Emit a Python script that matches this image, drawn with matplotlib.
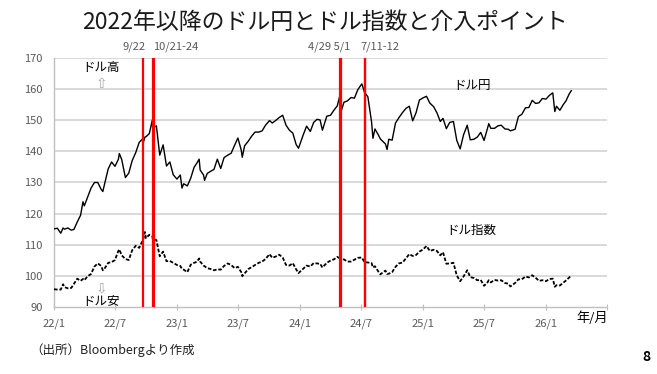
import matplotlib
matplotlib.use("Agg")
import matplotlib.pyplot as plt
import matplotlib.dates as mdates
import pandas as pd

plt.rcParams['font.family'] = ['Noto Sans CJK JP', 'DejaVu Sans']

dates = [
 "2022-01-01","2022-01-11","2022-01-21","2022-01-28","2022-02-01","2022-02-11","2022-02-21",
 "2022-03-01","2022-03-11","2022-03-21","2022-03-28","2022-04-01","2022-04-11","2022-04-21",
 "2022-05-01","2022-05-11","2022-05-21","2022-05-26","2022-06-01","2022-06-11","2022-06-21",
 "2022-07-01","2022-07-11","2022-07-14","2022-07-21","2022-08-01","2022-08-11","2022-08-21",
 "2022-09-01","2022-09-11","2022-09-21","2022-09-22","2022-09-28","2022-10-01","2022-10-11",
 "2022-10-20","2022-10-21","2022-11-01","2022-11-11","2022-11-21","2022-12-01","2022-12-11","2022-12-21",
 "2023-01-01","2023-01-11","2023-01-16","2023-01-21","2023-02-01","2023-02-11","2023-02-21",
 "2023-03-01","2023-03-08","2023-03-11","2023-03-21","2023-03-24","2023-04-01","2023-04-11","2023-04-21",
 "2023-05-01","2023-05-11","2023-05-21","2023-06-01","2023-06-11","2023-06-21",
 "2023-07-01","2023-07-11","2023-07-14","2023-07-21","2023-08-01","2023-08-11","2023-08-21",
 "2023-09-01","2023-09-11","2023-09-21","2023-10-03","2023-10-11","2023-10-21",
 "2023-11-01","2023-11-11","2023-11-21","2023-12-01","2023-12-11","2023-12-21","2023-12-28",
 "2024-01-11","2024-01-21","2024-02-01","2024-02-11","2024-02-21",
 "2024-03-01","2024-03-08","2024-03-21","2024-04-01","2024-04-11","2024-04-21","2024-04-29",
 "2024-05-01","2024-05-03","2024-05-11","2024-05-21","2024-06-01","2024-06-11","2024-06-21",
 "2024-07-03","2024-07-11","2024-07-21","2024-08-01","2024-08-05","2024-08-11","2024-08-21",
 "2024-08-27","2024-09-11","2024-09-16","2024-09-21","2024-10-01","2024-10-11","2024-10-21",
 "2024-11-01","2024-11-11","2024-11-21","2024-12-01","2024-12-11","2024-12-21",
 "2025-01-01","2025-01-11","2025-01-21","2025-02-01","2025-02-11","2025-02-21",
 "2025-03-01","2025-03-11","2025-03-21","2025-04-01","2025-04-11","2025-04-21",
 "2025-05-01","2025-05-12","2025-05-21","2025-06-01","2025-06-11","2025-06-21",
 "2025-07-01","2025-07-11","2025-07-15","2025-07-21","2025-08-01","2025-08-11","2025-08-21",
 "2025-09-01","2025-09-11","2025-09-17","2025-10-01","2025-10-11","2025-10-21",
 "2025-11-01","2025-11-11","2025-11-21","2025-12-01","2025-12-11","2025-12-21",
 "2026-01-01","2026-01-11","2026-01-21","2026-01-27","2026-02-01","2026-02-11","2026-02-21",
 "2026-03-01","2026-03-11","2026-03-17",
]

usdjpy = [
 115.1,115.3,113.7,115.4,115.0,115.4,114.7,
 114.9,117.3,119.5,123.8,122.5,125.4,128.2,
 130.0,130.0,127.8,127.1,129.9,134.4,136.6,
 135.2,137.4,139.3,137.4,131.6,133.0,137.0,
 139.7,142.9,144.0,142.4,144.6,144.7,145.7,
 150.1,147.6,148.2,138.8,142.1,135.3,136.6,132.5,
 131.1,132.4,128.2,129.6,128.9,131.4,134.9,
 136.2,137.5,134.0,132.4,130.7,132.9,133.6,134.2,
 137.5,134.5,138.0,138.8,139.4,141.9,
 144.3,140.4,138.1,141.8,143.3,144.9,146.2,
 146.2,146.6,148.4,149.9,149.1,149.9,
 150.9,151.6,148.4,146.8,145.9,142.2,141.0,
 145.3,148.1,146.4,149.3,150.3,
 150.1,146.8,151.3,151.6,153.2,154.6,158.0,
 157.4,153.0,155.8,156.2,157.3,157.1,159.8,
 161.7,159.0,157.5,149.4,144.2,147.2,145.3,
 144.0,142.4,140.6,143.9,143.6,149.1,150.8,
 152.5,153.8,154.5,149.8,152.4,156.5,
 157.2,157.7,155.5,154.4,152.4,149.6,
 150.6,147.3,149.3,149.6,143.5,140.8,
 145.3,148.4,143.7,143.9,144.6,146.1,
 143.5,147.4,148.9,147.4,147.4,148.2,148.4,
 147.2,147.1,146.6,147.1,151.2,151.9,
 154.0,154.1,156.4,155.4,155.6,157.0,
 156.8,158.0,158.8,152.8,154.5,153.2,155.0,
 156.2,158.5,159.5,
]

dxy = [
 95.7,95.6,95.6,97.3,96.4,96.0,96.1,
 97.4,99.1,98.4,99.0,98.6,99.9,100.6,
 103.0,104.0,103.2,101.8,102.5,104.2,104.4,
 105.1,108.0,108.5,106.6,105.4,105.1,108.2,
 109.7,109.0,111.3,111.3,114.1,112.1,113.2,
 112.9,112.0,111.5,106.3,107.8,104.7,104.8,104.2,
 103.5,103.2,102.2,102.0,101.2,103.6,104.2,
 104.5,105.6,104.6,103.3,103.1,102.5,102.2,101.8,
 102.1,102.0,103.2,104.0,103.5,102.5,
 102.9,101.2,99.9,100.8,102.2,102.8,103.5,
 104.2,104.6,105.4,107.0,105.8,106.2,
 106.8,105.9,103.5,103.3,104.1,102.1,100.9,
 102.3,103.3,103.0,104.1,104.0,
 103.9,102.7,104.2,104.9,105.3,106.1,105.6,
 106.2,105.1,105.3,104.6,104.6,105.2,105.8,
 105.9,104.4,104.3,104.1,102.7,103.1,101.4,
 100.5,101.7,100.6,100.7,101.2,102.9,104.0,
 104.3,105.6,107.0,106.4,106.7,107.8,
 108.5,109.6,108.0,108.4,108.0,106.6,
 107.6,103.9,104.0,104.2,100.1,98.3,
 99.8,101.8,99.6,99.3,98.6,98.7,
 96.8,97.9,98.6,97.9,98.7,98.5,98.6,
 97.7,97.5,96.6,97.7,98.9,98.9,
 99.8,99.5,100.2,99.4,98.4,98.6,
 98.3,99.0,99.1,96.5,97.0,96.9,97.8,
 98.5,99.5,100.1,
]

interventions = ["2022-09-22","2022-10-21","2022-10-24","2024-04-29","2024-05-01","2024-07-11","2024-07-12"]
xtick_dates = ["2022-01-01","2022-07-01","2023-01-01","2023-07-01","2024-01-01","2024-07-01",
               "2025-01-01","2025-07-01","2026-01-01"]
xtick_labels = ["22/1","22/7","23/1","23/7","24/1","24/7","25/1","25/7","26/1"]
yticks = [90,100,110,120,130,140,150,160,170]

x = pd.to_datetime(dates)

W, H = 657, 374
fig = plt.figure(figsize=(W/100, H/100), dpi=100)
ax = fig.add_axes([54/W, 1-307/H, (607-54)/W, (307-58)/H])

gray_txt = '#595959'
for v in yticks[1:]:
    ax.axhline(v, color='#D9D9D9', lw=1.4, zorder=0)

ax.plot(x, usdjpy, color='black', lw=1.0, zorder=3)
ax.plot(x, dxy, color='black', lw=1.3, linestyle=(0, (2, 1)), zorder=3)

for d in pd.to_datetime(interventions):
    ax.axvline(d, color='#FF0000', lw=1.6, zorder=4)

ax.set_ylim(90, 170)
ax.set_xlim(pd.Timestamp("2022-01-01"), pd.Timestamp("2026-07-01"))
ax.set_yticks(yticks)
ax.set_yticklabels([str(v) for v in yticks], color=gray_txt, fontsize=8)
ax.set_xticks(pd.to_datetime(xtick_dates + ["2026-07-01"]))
ax.set_xticklabels(xtick_labels + [""], color=gray_txt, fontsize=8)
ax.tick_params(axis='y', length=0, pad=8)
ax.tick_params(axis='x', direction='inout', length=5, color='#BFBFBF', pad=6)
for s in ['top', 'right']:
    ax.spines[s].set_visible(False)
ax.spines['left'].set_color('#BFBFBF')
ax.spines['bottom'].set_color('#BFBFBF')
ax.spines['left'].set_linewidth(1.0)
ax.spines['bottom'].set_linewidth(1.0)

def ftext(px, py, s, **kw):
    fig.text(px/W, 1-py/H, s, **kw)

ftext(325, 22, "2022年以降のドル円とドル指数と介入ポイント", ha='center', va='center', fontsize=16.5, color='#1a1a1a')
ftext(146, 47, "9/22", ha='right', va='center', fontsize=8, color=gray_txt)
ftext(153, 47, "10/21-24", ha='left', va='center', fontsize=8, color=gray_txt)
ftext(350, 47, "4/29 5/1", ha='right', va='center', fontsize=8, color=gray_txt)
ftext(360, 47, "7/11-12", ha='left', va='center', fontsize=8, color=gray_txt)

ftext(101, 68, "ドル高", ha='center', va='center', fontsize=9, color='black')
ftext(101, 84, "⇧", ha='center', va='center', fontsize=10, color='#A6A6A6', family=['DejaVu Sans'])
ftext(101, 288, "⇩", ha='center', va='center', fontsize=10, color='#A6A6A6', family=['DejaVu Sans'])
ftext(101, 302, "ドル安", ha='center', va='center', fontsize=9, color='black')
ftext(472, 85, "ドル円", ha='center', va='center', fontsize=9, color='black')
ftext(471, 230, "ドル指数", ha='center', va='center', fontsize=9, color='black')
ftext(592, 318, "年/月", ha='center', va='center', fontsize=9.5, color='black')
ftext(30, 350, "（出所）Bloombergより作成", ha='left', va='center', fontsize=9, color='#222222')
ftext(646, 357, "8", ha='center', va='center', fontsize=10, fontweight='bold', color='black')

fig.savefig("out.png", dpi=100)
